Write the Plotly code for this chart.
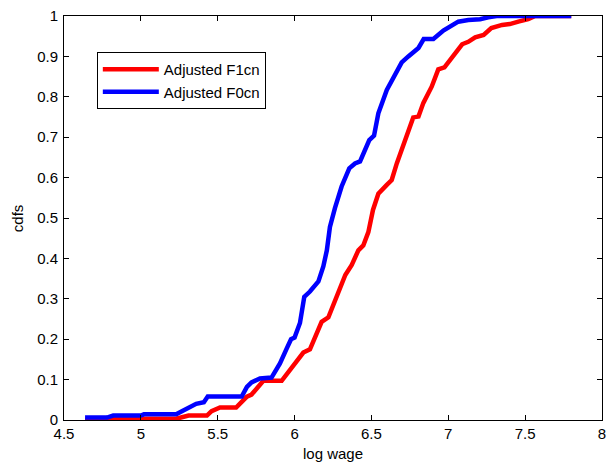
import plotly.graph_objects as go

# Adjusted F1cn (red)
f1_x = [4.637, 4.85, 5.23, 5.31, 5.43, 5.46, 5.515, 5.62, 5.656, 5.69, 5.72, 5.75, 5.797, 5.916,
        5.97, 6.025, 6.057, 6.1, 6.144, 6.176, 6.22, 6.274, 6.33, 6.372, 6.415, 6.447, 6.48, 6.51,
        6.545, 6.6, 6.632, 6.665, 6.718, 6.772, 6.806, 6.838, 6.892, 6.935, 6.975, 7.033, 7.09,
        7.13, 7.175, 7.23, 7.28, 7.35, 7.40, 7.456, 7.52, 7.565, 7.80]
f1_y = [0.0, 0.003, 0.003, 0.011, 0.011, 0.022, 0.031, 0.031, 0.045, 0.058, 0.063, 0.076, 0.097, 0.097,
        0.124, 0.149, 0.167, 0.175, 0.215, 0.243, 0.254, 0.305, 0.359, 0.384, 0.42, 0.432, 0.465, 0.52,
        0.56, 0.582, 0.594, 0.635, 0.695, 0.749, 0.751, 0.785, 0.825, 0.868, 0.873, 0.903, 0.93,
        0.936, 0.947, 0.953, 0.97, 0.978, 0.98, 0.986, 0.992, 1.0, 1.0]

# Adjusted F0cn (blue)
f0_x = [4.637, 4.78, 4.82, 5.0, 5.02, 5.23, 5.27, 5.30, 5.36, 5.41, 5.435, 5.656, 5.69, 5.72, 5.775,
        5.85, 5.905, 5.95, 5.977, 6.0, 6.035, 6.063, 6.1, 6.155, 6.187, 6.21, 6.23, 6.263, 6.306,
        6.356, 6.393, 6.426, 6.458, 6.486, 6.517, 6.545, 6.6, 6.654, 6.697, 6.74, 6.806, 6.84,
        6.903, 6.968, 7.01, 7.065, 7.13, 7.207, 7.26, 7.315, 7.80]
f0_y = [0.006, 0.006, 0.011, 0.011, 0.014, 0.014, 0.022, 0.029, 0.04, 0.044, 0.058, 0.058, 0.082, 0.093, 0.103,
        0.105, 0.14, 0.178, 0.2, 0.204, 0.24, 0.305, 0.318, 0.343, 0.38, 0.42, 0.478, 0.525, 0.578,
        0.623, 0.635, 0.64, 0.665, 0.693, 0.704, 0.759, 0.817, 0.858, 0.885, 0.9, 0.921, 0.943,
        0.943, 0.964, 0.973, 0.986, 0.99, 0.992, 0.997, 1.0, 1.0]

x_ticks = [4.5, 5, 5.5, 6, 6.5, 7, 7.5, 8]
x_tick_labels = ["4.5", "5", "5.5", "6", "6.5", "7", "7.5", "8"]
y_ticks = [0, 0.1, 0.2, 0.3, 0.4, 0.5, 0.6, 0.7, 0.8, 0.9, 1]
y_tick_labels = ["0", "0.1", "0.2", "0.3", "0.4", "0.5", "0.6", "0.7", "0.8", "0.9", "1"]

FONT = "Liberation Sans, Arial, Helvetica, sans-serif"

fig = go.Figure()
fig.add_trace(go.Scatter(x=f1_x, y=f1_y, mode="lines", name="Adjusted F1cn",
                         line=dict(color="#ff0000", width=4.5)))
fig.add_trace(go.Scatter(x=f0_x, y=f0_y, mode="lines", name="Adjusted F0cn",
                         line=dict(color="#0000ff", width=4.5)))

axis_common = dict(showline=True, linecolor="black", linewidth=1, mirror="ticks",
                   ticks="inside", ticklen=5, tickcolor="black", showgrid=False,
                   zeroline=False, automargin=False,
                   tickfont=dict(family=FONT, size=15, color="black"))

fig.update_layout(
    width=607, height=463,
    margin=dict(l=64, r=5, t=16, b=43),
    paper_bgcolor="white", plot_bgcolor="white",
    font=dict(family=FONT, size=15, color="black"),
    xaxis=dict(range=[4.5, 8], tickvals=x_ticks, ticktext=x_tick_labels, ticklabelstandoff=0,
               **axis_common),
    yaxis=dict(range=[0, 1], tickvals=y_ticks, ticktext=y_tick_labels, ticklabelstandoff=2,
               **axis_common),
    legend=dict(x=0.061, y=0.911, xanchor="left", yanchor="top",
                bordercolor="black", borderwidth=1, bgcolor="white",
                font=dict(family=FONT, size=15), itemwidth=56,
                tracegroupgap=0),
    showlegend=True,
    annotations=[
        dict(text="log wage", xref="paper", yref="paper", x=0.5, y=-0.082,
             xanchor="center", yanchor="middle", showarrow=False,
             font=dict(family=FONT, size=15, color="black")),
        dict(text="cdfs", xref="paper", yref="paper", x=-0.087, y=0.5,
             xanchor="center", yanchor="middle", showarrow=False, textangle=-90,
             font=dict(family=FONT, size=15, color="black")),
    ],
)

fig.write_html("out.html", config={"displayModeBar": False},
               post_script="document.body.style.margin='0';document.body.style.overflow='hidden';")
